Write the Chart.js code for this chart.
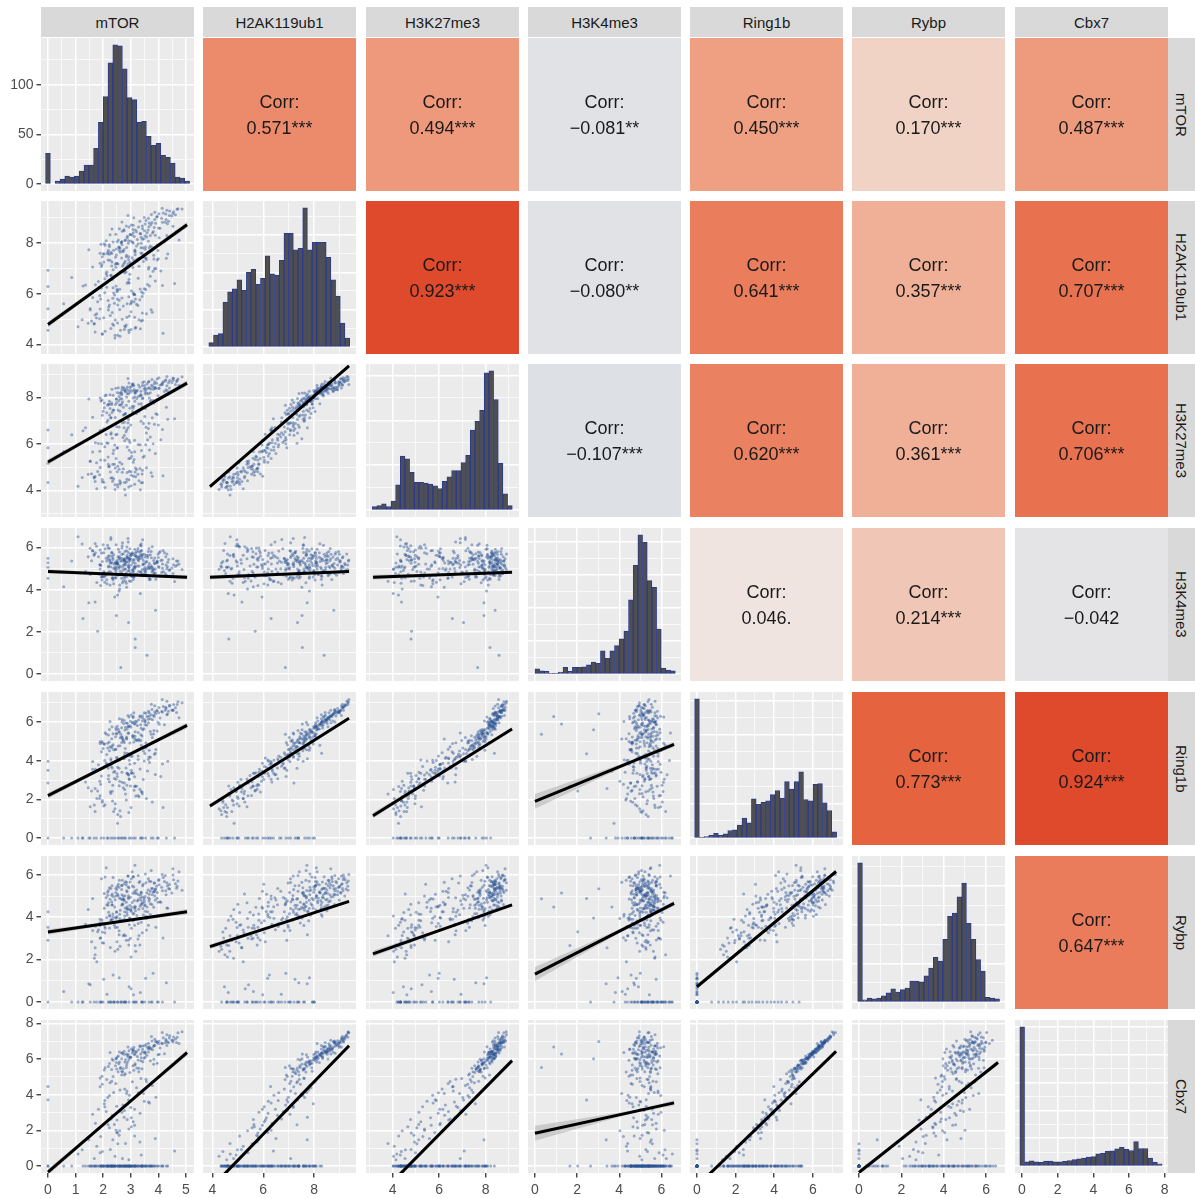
<!DOCTYPE html>
<html lang="en">
  <head>
    <meta charset="UTF-8" />
    <title>Pairs plot</title>
    <style>
      body { margin: 0; background: #ffffff; }
      #wrap {
        position: relative;
        width: 1195px;
        height: 1198px;
        overflow: hidden;
        font-family: 'Liberation Sans', Arial, Helvetica, sans-serif;
      }
      .strip {
        position: absolute;
        background: #d9d9d9;
        color: #1a1a1a;
        font-size: 15px;
        display: flex;
        align-items: center;
        justify-content: center;
      }
      .strip.right { writing-mode: vertical-rl; }
      canvas { position: absolute; }
    </style>
  </head>
  <body>
    <div id="wrap"></div>

    <script src="https://cdn.jsdelivr.net/npm/chart.js"></script>
    <script>
      // ---- data ----
      const variables = ['mTOR', 'H2AK119ub1', 'H3K27me3', 'H3K4me3', 'Ring1b', 'Rybp', 'Cbx7'];

      // observed range of each variable (axes are this range plus 5%)
      const dataMin = [0, 3.9, 3.15, 0, 0, 0, 0];
      const dataMax = [5.04, 9.38, 9.14, 6.6, 7.2, 6.56, 7.8];
      const varMean = [2.8, 7.0, 7.0, 4.7, 4.3, 4.2, 3.5];

      // axis breaks
      const majorBreaks = [[0, 1, 2, 3, 4, 5], [4, 6, 8], [4, 6, 8], [0, 2, 4, 6], [0, 2, 4, 6], [0, 2, 4, 6], [0, 2, 4, 6, 8]];
      const minorBreaks = [[0.5, 1.5, 2.5, 3.5, 4.5], [5, 7, 9], [3, 5, 7, 9], [1, 3, 5], [1, 3, 5, 7], [1, 3, 5], [1, 3, 5, 7]];

      // sampled observations (one entry per gene, same order in every array)
      const mTOR = [
        2.13,2.77,2.31,3.08,2.54,1.96,2.80,2.49,3.22,2.25,
        2.93,2.67,3.41,2.48,2.04,3.16,2.70,2.59,3.52,2.85,
        2.23,3.37,2.91,2.68,3.64,2.36,3.00,2.79,3.42,2.55,
        3.13,2.87,3.71,2.98,3.34,2.46,3.50,3.09,3.82,2.75,
        3.43,3.17,4.01,3.28,2.84,3.66,3.90,3.09,3.52,4.15,
        3.33,3.77,3.11,4.28,3.64,3.96,4.40,3.49,4.02,3.75,
        4.53,3.87,4.31,4.68,4.14,4.86,3.30,1.89,4.22,2.25,
        4.53,2.07,4.31,2.68,3.84,4.66,2.90,3.99,2.32,4.75,
        2.23,2.87,1.91,2.68,3.14,2.06,2.50,3.49,1.72,2.95,
        2.33,3.27,2.11,2.78,3.64,2.46,3.00,1.89,2.92,3.55,
        2.23,3.37,2.61,3.78,2.04,3.06,2.50,3.89,1.62,2.85,
        3.33,2.47,3.91,2.18,3.14,2.76,
        2.43,1.97,2.81,1.68,3.14,2.26,2.60,1.89,3.02,2.35,
        2.93,1.77,2.51,3.38,
        2.53,1.97,3.01,2.28,2.84,1.46,3.30,2.69,2.02,2.95,
        2.33,3.57,1.71,2.78,2.44,3.16,2.20,2.99,1.62,3.45,
        2.13,2.87,3.71,2.58,1.94,3.26,2.60,4.09,2.32,3.05,
        2.73,3.67,2.11,3.38,4.34,1.36,2.90,3.89,2.42,3.15,
        2.63,1.87,3.21,2.38,2.94,3.66,2.00,3.09,2.52,4.15,
        1.53,2.77,3.41,2.28,
        2.43,1.67,3.01,2.18,3.54,0.86,2.70,4.29,1.92,3.35,
        2.53,1.27,3.81,2.28,2.94,1.76,3.10,4.59,2.02,2.65,
        3.43,0.57,2.81,1.48,3.74,2.36,4.00,1.09,
        0,0,0,0,2.64,3.16,1.80,3.59,
        3.21,2.62,3.94,3.48,2.36,3.02,3.71,4.41,2.51,3.11,
        4.06,2.19,3.55,2.88,2.73,4.62,3.36,3.83,2.94,3.27,
        4.25,2.45,3.63,4.71,2.81,3.44,3.87,3.05,2.31,4.33,
        3.58,4.18,2.97,3.42,2.67,3.96,2.76,4.49,3.15,3.79,
        3.24,2.59,4.12,2.84,3.67,4.03,2.48,4.55,2.99,3.85,
        3.38,2.69,4.37,3.29,2.92,3.73,4.27,2.57,3.52,3.08,
        2.41,3.02,1.83,2.72,3.46,2.17,2.93,3.68,2.29,2.86,
        1.97,3.21,2.58,3.34,2.06,2.77,3.57,2.38,3.09,2.49,
        2.61,2.07,3.18,2.34,1.58,2.86,3.42,2.19,2.73,3.03,
        1.88,2.52,3.61,2.28,2.97,3.86,2.44,3.27,2.16,3.53,
        2.68,4.17,1.71,2.91,3.74,
        2.77,1.53,3.39,2.14,3.96,1.24,2.58,3.17,
        2.38,3.12,1.94,2.83,3.51,2.22,3.78
      ];
      const H2AK119ub1 = [
        6.86,6.91,7.09,7.03,7.17,7.14,7.28,7.20,7.35,7.32,
        7.46,7.41,7.59,7.53,7.57,7.64,7.68,7.70,7.75,7.82,
        7.86,7.81,7.99,7.93,8.07,8.04,8.08,8.10,8.15,8.12,
        8.26,8.21,8.29,8.33,8.37,8.34,8.48,8.40,8.45,8.52,
        8.56,8.51,8.59,8.63,8.67,8.64,8.78,8.70,8.75,8.82,
        8.86,8.81,8.99,8.93,8.97,9.04,9.08,9.00,9.15,9.12,
        9.16,9.21,9.29,9.33,9.37,9.34,7.08,7.60,8.05,8.32,
        8.66,7.91,8.29,8.83,7.37,8.44,9.08,7.70,8.55,8.12,
        5.56,5.61,5.79,5.83,5.97,6.04,6.18,6.20,6.35,6.42,
        6.56,6.61,6.79,6.83,6.97,7.04,7.18,7.20,7.35,7.42,
        7.56,7.61,7.79,7.83,7.97,8.04,6.08,6.50,7.05,7.52,
        5.76,6.31,6.99,7.33,5.97,7.74,
        4.26,4.41,4.69,4.83,5.07,5.14,5.38,5.40,5.65,5.82,
        4.56,5.21,5.79,4.93,
        4.36,4.41,4.59,4.63,4.77,4.84,4.98,5.00,5.05,5.12,
        5.26,5.21,4.49,4.73,4.97,4.64,5.48,5.60,5.85,6.02,
        6.26,6.41,6.69,6.83,7.07,5.54,6.18,6.90,7.25,7.42,
        7.66,7.81,8.09,8.23,7.57,6.34,7.18,8.30,5.95,7.72,
        4.56,5.01,5.59,6.03,6.57,7.04,7.58,8.00,4.85,6.32,
        5.36,7.21,5.89,6.73,
        4.36,4.81,5.29,5.73,6.17,6.64,7.08,7.40,7.95,4.62,
        5.56,6.31,6.89,7.63,4.47,5.04,5.98,6.40,7.25,8.02,
        4.96,5.61,6.99,7.73,5.37,6.24,7.38,4.70,
        4.56,5.41,6.29,6.93,6.87,7.54,5.68,8.40,
        8.44,7.63,9.02,8.17,6.95,8.71,7.88,9.26,8.05,7.32,
        8.58,7.71,8.89,8.27,7.15,9.11,8.36,7.52,8.63,7.97,
        8.82,7.44,8.51,9.35,8.12,7.81,8.93,8.31,7.59,8.76,
        8.24,9.18,7.25,8.67,8.02,7.92,8.48,9.06,7.68,8.39,
        8.14,8.56,8.97,7.46,8.79,8.21,7.76,9.23,8.33,8.61,
        7.99,8.46,8.86,7.39,8.09,8.72,9.14,7.84,8.28,8.53,
        5.63,6.12,6.48,6.88,7.27,7.63,5.88,6.31,6.72,7.08,
        7.46,7.88,5.74,6.19,6.59,6.95,7.35,7.71,6.04,7.19,
        4.33,4.52,4.68,4.81,4.93,5.07,5.24,5.36,5.52,5.71,
        5.93,6.13,6.36,6.57,6.77,6.98,7.16,7.37,7.58,7.84,
        8.06,4.44,5.16,6.46,7.69,
        4.59,5.42,6.07,6.71,7.33,4.98,7.82,5.79,
        4.76,5.68,6.22,6.86,7.41,7.93,5.27
      ];
      const H3K27me3 = [
        7.34,7.27,7.70,7.53,7.46,7.89,7.31,7.78,7.95,7.52,
        7.84,8.17,7.60,7.93,7.76,8.19,7.81,7.68,8.15,8.02,
        7.84,8.27,8.30,7.73,8.16,8.09,8.31,8.28,7.95,8.42,
        8.34,8.17,8.20,8.43,8.06,8.39,8.51,8.28,8.35,8.42,
        8.64,8.27,8.40,8.53,8.36,8.69,8.41,8.58,8.25,8.62,
        8.44,8.77,8.50,8.33,8.66,8.79,8.41,8.68,8.85,8.52,
        8.74,8.67,8.90,8.73,8.56,8.89,7.41,7.98,8.25,8.12,
        8.84,8.07,8.50,8.33,7.76,8.69,8.81,8.08,8.35,8.52,
        5.04,4.77,5.30,5.13,5.66,5.29,5.81,5.48,6.05,5.72,
        6.24,5.97,6.40,6.13,6.66,6.39,6.81,6.58,7.05,6.72,
        7.24,6.97,7.40,7.13,7.56,7.39,6.41,5.58,7.15,6.22,
        4.94,5.37,7.30,6.03,6.16,6.69,
        4.04,4.37,3.80,4.53,4.26,4.79,4.41,4.98,4.65,5.12,
        4.14,4.07,4.80,4.33,
        4.14,4.47,4.20,4.53,4.36,4.69,4.41,4.78,4.35,4.82,
        4.54,4.97,4.60,4.03,4.96,4.79,5.01,5.38,5.65,5.42,
        6.04,5.87,6.30,6.73,6.56,4.69,5.21,6.18,7.35,7.62,
        7.24,7.97,8.10,7.73,7.06,6.69,6.91,8.38,5.95,8.02,
        4.34,4.67,4.90,5.73,6.16,6.89,7.41,7.98,4.25,6.62,
        5.24,6.37,4.70,7.13,
        4.24,4.57,4.80,5.43,5.96,6.39,6.91,7.58,7.85,4.02,
        5.04,6.57,6.00,7.13,4.46,5.19,4.61,7.08,6.65,8.22,
        4.34,5.67,7.30,7.93,4.76,5.59,6.81,4.18,
        4.34,5.17,6.60,5.83,7.66,8.19,4.81,8.58,
        8.27,7.94,8.61,8.36,7.45,8.48,7.82,8.73,8.21,7.62,
        8.52,7.71,8.34,8.45,7.58,8.56,8.13,7.87,8.62,8.04,
        8.71,7.69,8.39,8.79,8.26,7.98,8.44,8.58,7.76,8.29,
        8.19,8.68,7.53,8.51,8.12,7.91,8.33,8.64,7.84,8.47,
        8.31,8.18,8.57,7.66,8.42,8.38,7.93,8.82,8.22,8.59,
        8.08,8.44,8.63,7.72,8.16,8.36,8.76,7.86,8.41,8.53,
        5.12,5.63,6.02,6.27,6.88,7.02,5.37,5.74,6.48,6.61,
        7.23,7.31,4.91,5.96,5.88,6.93,6.47,7.46,5.21,6.74,
        4.27,4.12,4.58,4.39,4.71,4.48,4.86,5.12,4.93,5.47,
        5.68,5.84,6.18,6.41,6.06,6.84,7.14,7.43,7.66,7.52,
        7.94,4.63,4.38,6.71,7.88,
        4.34,5.26,5.71,6.94,7.27,4.55,8.04,4.96,
        4.49,5.33,6.01,6.52,7.18,7.71,4.61
      ];
      const H3K4me3 = [
        5.37,4.64,5.60,4.98,5.21,4.46,5.83,5.09,4.75,5.42,
        5.17,4.54,5.50,2.78,4.81,5.26,4.33,5.79,5.05,4.62,
        5.37,5.84,4.90,5.48,5.11,4.46,5.63,5.29,4.75,5.92,
        5.07,5.54,4.50,5.38,6.11,4.86,5.23,5.69,4.95,5.42,
        4.67,5.74,5.10,5.38,4.81,5.96,3.03,4.49,5.55,5.02,
        5.77,4.84,5.40,5.18,5.81,5.36,4.93,5.69,5.05,5.52,
        4.77,5.24,5.70,5.18,5.41,4.96,5.53,4.99,5.75,4.22,
        5.47,5.94,5.00,5.68,4.81,5.36,5.13,5.69,4.75,5.22,
        4.87,5.54,4.20,5.98,5.11,4.66,5.33,4.99,5.75,4.42,
        5.27,5.84,4.70,5.48,5.01,4.56,5.63,5.19,2.45,5.32,
        5.97,4.84,5.50,5.08,4.61,5.76,5.23,4.99,5.85,4.12,
        5.47,6.14,4.50,5.58,5.01,5.36,
        4.97,5.34,4.40,5.68,4.71,5.26,4.03,5.89,4.65,5.52,
        5.07,4.34,5.40,6.08,
        5.27,4.64,5.70,5.08,4.31,5.56,5.13,6.09,4.85,5.42,
        4.57,5.64,6.20,4.98,5.31,1.66,5.13,4.79,5.85,5.22,
        4.47,5.64,5.00,5.48,4.61,5.96,4.23,5.39,5.75,4.92,
        5.17,4.54,5.50,6.18,5.31,4.86,6.43,4.79,3.65,5.92,
        5.37,4.74,5.80,4.28,5.51,5.06,6.13,4.89,3.75,5.22,
        5.97,4.54,5.60,6.38,
        5.07,5.64,4.40,5.98,4.81,5.36,6.23,4.69,5.15,3.82,
        5.57,2.64,5.00,6.48,4.91,6.06,5.43,4.39,5.75,4.72,
        6.37,4.14,5.20,3.38,5.81,4.56,5.53,6.52,
        5.07,4.54,5.50,5.28,0.31,1.26,2.03,0.89,
        5.58,4.88,5.31,4.72,5.44,5.17,5.66,4.95,5.23,4.61,
        5.82,5.08,4.69,5.47,5.71,5.12,4.84,5.39,5.04,5.55,
        4.77,5.26,5.63,5.36,4.98,5.19,5.51,4.63,5.77,5.09,
        5.34,4.86,5.48,5.69,4.79,5.27,5.42,5.03,5.61,4.91,
        5.13,5.58,4.82,5.35,5.24,5.76,4.97,5.19,5.46,4.73,
        5.62,5.07,5.43,4.86,5.32,5.14,5.57,5.02,4.68,5.29,
        5.21,4.68,5.57,4.93,5.39,4.81,5.76,4.47,5.31,5.84,
        4.62,5.49,5.08,5.63,4.36,5.17,4.99,5.66,4.84,5.28,
        5.13,4.77,5.62,4.54,5.38,6.03,4.96,5.47,4.41,5.71,
        5.19,4.69,5.53,4.83,5.94,5.26,4.58,5.42,6.11,4.91,
        5.37,5.86,3.42,6.27,5.06,
        5.41,4.72,5.86,4.29,5.33,6.17,3.94,5.08,
        5.02,4.61,5.74,5.29,4.86,5.61,6.04
      ];
      const Ring1b = [
        4.32,4.95,4.68,5.21,4.77,5.00,4.64,5.39,5.06,4.73,
        5.42,4.95,5.28,5.61,4.87,5.50,5.14,5.49,5.86,5.23,
        5.62,5.35,5.78,5.21,5.97,5.40,5.74,5.59,6.06,5.63,
        5.92,5.65,6.18,5.81,6.27,5.70,6.14,5.99,6.36,5.93,
        6.22,6.05,6.48,6.11,5.97,6.30,6.44,6.29,6.06,6.53,
        6.32,6.65,6.48,6.71,6.57,6.60,6.84,6.49,6.76,6.93,
        6.62,6.85,7.08,6.91,7.17,7.00,5.04,4.99,5.86,6.03,
        6.62,5.45,6.38,6.01,5.57,6.50,6.34,5.99,5.76,6.23,
        2.92,3.35,2.78,3.41,3.17,3.70,3.34,3.99,3.56,4.03,
        3.62,4.25,3.88,4.41,4.07,4.60,4.24,4.89,4.36,4.93,
        4.52,5.05,4.78,5.21,4.87,5.30,4.14,3.29,3.96,5.13,
        2.52,3.05,4.58,3.61,3.87,4.10,
        1.52,1.95,2.28,1.71,2.67,2.40,2.94,2.19,3.36,2.73,
        1.32,2.05,3.18,2.41,
        1.22,1.85,1.58,2.31,1.97,2.60,2.14,2.89,1.66,3.03,
        2.42,2.05,1.38,2.51,1.77,2.70,3.24,2.69,3.56,3.03,
        3.82,3.35,4.18,3.61,4.47,2.20,4.04,3.19,4.76,4.23,
        5.02,4.55,5.38,4.81,3.97,2.90,5.44,4.39,3.46,5.13,
        1.12,2.05,2.68,3.41,3.07,4.20,4.64,5.29,0.76,3.83,
        1.62,2.85,2.38,4.01,
        0,0,0,0,0,0,0,0,0,0,
        0,0,0,0,0,0,0,0,0,0,
        0,0,0,0,0,0,0,0,
        0,2.85,3.98,3.51,5.37,5.90,2.44,6.29,
        6.02,5.19,6.58,5.66,4.83,6.37,5.52,6.88,5.79,4.97,
        6.21,5.33,6.46,5.93,5.07,6.74,5.87,5.38,6.27,5.46,
        6.61,5.24,6.15,7.06,5.74,5.61,6.52,5.97,5.14,6.42,
        5.84,6.81,4.92,6.33,5.71,5.54,6.09,6.63,5.27,6.12,
        5.82,6.18,6.55,5.17,6.48,5.89,5.43,6.91,6.05,6.29,
        5.68,6.14,6.57,5.11,5.77,6.38,6.77,5.49,6.01,6.24,
        3.08,3.51,3.79,4.13,4.51,4.66,3.27,3.91,3.72,4.39,
        4.92,5.06,2.71,3.58,4.02,4.27,4.73,4.57,3.36,4.18,
        1.41,1.73,2.18,1.92,2.44,2.73,2.29,3.06,2.61,3.38,
        2.94,3.67,3.47,4.11,3.82,4.34,4.58,4.07,4.91,4.66,
        5.24,1.58,2.57,3.28,5.37,
        0,0,0,0,0,0,0,0,
        1.37,2.47,3.21,3.63,4.38,4.97,1.86
      ];
      const Rybp = [
        4.59,3.90,4.73,4.16,5.02,3.87,4.44,5.31,4.08,4.85,
        4.39,5.50,4.63,3.96,5.12,4.47,5.74,4.91,4.28,5.25,
        4.09,4.80,5.43,4.56,4.92,5.87,4.34,5.01,4.68,5.55,
        4.79,5.20,4.13,5.66,4.92,5.37,4.54,5.91,5.18,4.85,
        5.49,4.30,5.73,5.06,5.52,4.77,5.34,5.91,4.98,5.25,
        5.69,4.60,5.43,5.06,5.82,5.17,5.54,4.81,5.78,5.35,
        5.99,5.00,5.63,5.46,6.02,5.27,5.64,3.61,5.68,4.05,
        6.29,5.90,4.43,5.06,5.22,5.37,5.94,4.71,4.58,6.15,
        3.49,4.10,3.03,3.86,4.42,3.27,4.04,4.71,3.58,3.95,
        4.59,3.70,4.93,4.26,3.62,5.17,4.34,3.91,4.88,4.05,
        5.39,4.60,3.83,5.06,4.42,5.47,2.84,4.81,3.38,5.65,
        2.69,5.00,3.53,4.56,5.22,3.17,
        2.39,2.80,3.13,2.06,3.62,2.57,3.94,3.01,3.48,4.15,
        2.69,1.90,3.53,3.76,
        2.49,3.30,2.13,3.86,2.92,4.37,3.14,4.61,2.78,3.65,
        5.09,3.40,2.23,4.06,3.52,2.67,4.24,3.01,4.88,5.55,
        3.99,4.50,5.23,3.36,5.82,2.97,4.14,4.71,5.48,6.15,
        4.99,5.70,6.33,5.16,4.42,3.67,5.94,5.31,4.48,6.45,
        0,0,0,0,0,0,0,0,0,0,
        0,0,0,0,
        0,0,0.63,0,1.12,0,0,0.91,0,0.45,
        0,0,1.36,0,0.72,0,0.34,0,1.08,0,
        0,0.50,0,0.86,0,1.27,0,0,
        0,3.53,4.26,2.92,4.87,5.14,3.31,4.48,
        5.12,4.33,5.47,4.91,4.02,5.81,4.64,5.33,5.46,4.18,
        4.73,5.26,5.63,4.37,4.86,5.58,5.06,4.47,5.39,4.82,
        5.97,3.98,5.28,5.71,5.67,4.41,5.22,4.69,5.03,5.49,
        5.15,5.87,4.56,4.96,5.31,4.89,5.58,5.14,4.52,5.35,
        4.76,5.74,5.42,4.71,5.08,5.53,4.26,5.77,4.94,5.61,
        5.18,4.83,5.36,4.38,5.01,5.69,5.25,5.41,4.58,5.13,
        3.62,4.27,3.41,4.63,4.12,5.04,2.93,4.86,3.88,4.41,
        3.73,5.29,3.17,4.52,3.56,4.78,3.94,4.97,3.84,4.23,
        2.63,3.48,2.39,3.91,2.84,4.22,3.27,4.68,3.13,4.47,
        3.74,5.08,4.26,5.36,3.96,5.62,4.83,5.97,5.18,6.04,
        5.51,3.02,2.56,4.92,6.21,
        0,0.82,0,0.37,0,0,1.15,0,
        0,0,0,0,0,0,0
      ];
      const Cbx7 = [
        4.85,5.11,4.76,5.62,5.29,5.03,5.18,5.44,5.50,4.67,
        5.95,5.11,5.46,6.02,5.39,5.73,5.28,5.84,6.10,5.67,
        5.75,5.91,6.26,5.32,6.39,5.93,6.08,5.84,6.40,6.17,
        6.25,5.81,6.56,6.12,6.69,6.03,6.38,6.44,6.70,6.27,
        6.55,6.41,6.86,6.52,6.29,6.63,6.98,6.54,6.40,6.87,
        6.75,7.01,6.66,7.02,6.89,6.93,7.18,6.74,7.00,7.27,
        6.95,7.11,7.36,7.22,7.49,7.53,5.48,4.94,6.30,6.37,
        7.05,5.51,6.76,6.32,5.99,6.93,6.68,6.24,6.00,6.87,
        2.15,2.61,1.66,3.02,2.29,3.33,1.88,3.64,2.40,3.97,
        2.85,4.11,3.06,4.32,3.59,4.63,3.28,4.44,3.70,4.87,
        3.95,4.91,4.26,4.52,3.49,4.73,2.58,1.54,2.90,4.07,
        1.35,2.01,3.86,2.32,3.19,2.73,
        0.55,0.81,1.26,0.42,1.69,0.93,1.98,0.74,2.20,1.47,
        0.35,1.11,1.86,0.62,
        0,0,0,0,0,0,0,0,0,0,
        0,0,0,0,0,0,0,0,0,0,
        0,0,0,0,0,0,0,0,0,0,
        0,0,0,0,0,0,0,0,0,0,
        0,0,0,0,0,0,0,0,0,0,
        0,0,0,0,
        0,0,0,0,0,0,0.43,0,0,0,
        1.25,0,0,0,0,0,0,0.84,0,0,
        0,0,0,1.48,0,0,0,0.67,
        0,0,4.46,3.72,5.53,6.29,0,6.67,
        6.41,5.47,6.97,6.05,5.02,6.58,5.91,7.31,6.12,5.37,
        6.62,5.58,6.82,6.18,5.46,7.13,6.29,5.71,6.47,5.94,
        6.91,5.63,6.56,7.48,5.98,5.85,6.78,6.34,5.41,6.95,
        6.21,7.19,5.24,6.73,6.01,5.77,6.44,7.06,5.66,6.52,
        6.14,6.39,6.88,5.52,6.69,6.27,5.81,7.24,6.11,6.76,
        6.07,6.36,6.93,5.29,6.09,6.61,7.09,5.73,6.33,6.49,
        2.33,2.71,3.18,3.42,4.07,3.84,2.08,3.53,2.64,4.21,
        4.58,4.39,1.72,2.96,3.67,3.12,4.74,4.12,2.49,3.36,
        0,0,0,0,0,0,0,0,0,0,
        0,0,0,0,0,0,0,0,0,0,
        0,0,0,0,0,
        0,0,0,0,0,0.91,0,0,
        0,0,0,0,0,0,0
      ];
      const series = [mTOR, H2AK119ub1, H3K27me3, H3K4me3, Ring1b, Rybp, Cbx7];

      // diagonal histograms: 30 bins each
      const histStart = [-0.087, 3.855, 3.12, 0.0, -0.12, -0.06, -0.12];
      const histWidth = [0.174, 0.185, 0.201, 0.222, 0.245, 0.223, 0.266];
      const countsMTOR = [31,0,3,5,8,7,8,13,19,19,36,62,88,122,140,139,116,87,85,62,63,48,39,41,29,27,21,7,6,3];
      const countsH2AK = [3,8,9,30,37,39,45,38,50,52,42,46,61,49,48,58,76,76,65,66,93,65,70,70,70,60,45,34,16,6];
      const countsH3K27 = [4,5,7,4,10,28,60,57,42,31,31,30,29,27,24,32,37,44,44,53,61,89,99,111,153,155,123,52,18,5];
      const countsH3K4 = [8,5,4,1,1,3,10,4,10,10,11,14,18,16,35,24,35,43,53,65,112,164,210,199,141,131,68,9,6,5];
      const countsRing1b = [202,1,2,4,7,4,6,11,12,19,29,22,57,49,52,54,63,69,58,82,71,82,96,56,54,78,79,51,40,9];
      const countsRybp = [180,3,5,4,5,8,12,17,13,16,18,27,27,26,34,44,58,53,81,111,115,136,154,102,81,55,40,6,5,4];
      const countsCbx7 = [500,15,19,15,13,18,18,15,15,17,20,23,26,29,32,34,44,47,53,55,62,67,60,56,88,63,63,29,14,8];
      const histCounts = [countsMTOR, countsH2AK, countsH3K27, countsH3K4, countsRing1b, countsRybp, countsCbx7];
      const countStep = [50, 25, 50, 50, 50, 50, 100];

      // upper panels: correlation and significance, row by row
      const corrValues = [0.571, 0.494, -0.081, 0.450, 0.170, 0.487,
                          0.923, -0.080, 0.641, 0.357, 0.707,
                          -0.107, 0.620, 0.361, 0.706,
                          0.046, 0.214, -0.042,
                          0.773, 0.924,
                          0.647];
      const corrStars = ['***', '***', '**', '***', '***', '***',
                         '***', '**', '***', '***', '***',
                         '***', '***', '***', '***',
                         '.', '***', '',
                         '***', '***',
                         '***'];

      // lower panels: linear fit (row variable on column variable), row by row
      const fitIntercept = [4.79,
                            5.22, 0.45,
                            4.87, 4.39, 4.47,
                            2.2, -1.58, -1.2, 1.9,
                            3.3, 1.09, 1.06, 1.32, 0.72,
                            -0.34, -7.0, -6.15, 1.84, -1.13, -0.36];
      const fitSlope = [0.78,
                        0.674, 0.95,
                        -0.056, 0.051, 0.04,
                        0.72, 0.83, 0.749, 0.447,
                        0.19, 0.39, 0.385, 0.505, 0.755,
                        1.33, 1.465, 1.32, 0.258, 1.05, 0.94];
      // confidence band half-width at low end, mean and high end of x
      const bandLow = [0.12, 0.12, 0.08, 0.1, 0.1, 0.12, 0.15, 0.12, 0.15, 0.38, 0.13, 0.12, 0.14, 0.33, 0.1, 0.18, 0.15, 0.18, 0.42, 0.1, 0.14];
      const bandMid = [0.04, 0.04, 0.02, 0.03, 0.03, 0.03, 0.05, 0.04, 0.04, 0.06, 0.04, 0.04, 0.04, 0.05, 0.04, 0.06, 0.05, 0.05, 0.07, 0.04, 0.05];
      const bandHigh = [0.12, 0.12, 0.06, 0.1, 0.06, 0.06, 0.15, 0.08, 0.08, 0.14, 0.13, 0.08, 0.08, 0.12, 0.1, 0.18, 0.1, 0.1, 0.15, 0.08, 0.14];

      // ---- layout & style ----
      const FONT = "'Liberation Sans', Arial, Helvetica, sans-serif";
      const colX = [41, 203, 366, 528, 690, 852, 1015];
      const rowY = [38, 201, 364, 528, 692, 856, 1020];
      const PANEL = 153;
      const LEFT_AXIS = 41;
      const BOTTOM_AXIS = 25;
      const TOP_ROOM = 8;
      const POINT_COLOR = 'rgba(42, 82, 148, 0.45)';
      const BAR_FILL = '#4f4f4f';
      const BAR_LINE = '#2b3a8f';

      const corrStops = [
        [-0.11, [221, 225, 230]],
        [0.0, [233, 230, 230]],
        [0.05, [240, 228, 224]],
        [0.17, [240, 211, 197]],
        [0.21, [240, 200, 184]],
        [0.36, [240, 175, 151]],
        [0.45, [239, 160, 131]],
        [0.49, [238, 154, 124]],
        [0.57, [236, 139, 108]],
        [0.63, [234, 127, 94]],
        [0.71, [232, 113, 79]],
        [0.77, [230, 100, 64]],
        [0.92, [224, 74, 44]]
      ];

      Chart.defaults.font.family = FONT;

      function corrColor(v) {
        if (v <= corrStops[0][0]) return `rgb(${corrStops[0][1].join(',')})`;
        for (let s = 1; s < corrStops.length; s++) {
          const [v1, c1] = corrStops[s];
          const [v0, c0] = corrStops[s - 1];
          if (v <= v1) {
            const t = (v - v0) / (v1 - v0);
            const c = c0.map((ch, n) => Math.round(ch + (c1[n] - ch) * t));
            return `rgb(${c.join(',')})`;
          }
        }
        return `rgb(${corrStops[corrStops.length - 1][1].join(',')})`;
      }

      function axisRange(k) {
        const span = dataMax[k] - dataMin[k];
        return [dataMin[k] - 0.05 * span, dataMax[k] + 0.05 * span];
      }

      function makeAxis(dir, min, max, majors, minors, show, size) {
        const all = majors.concat(minors).filter(v => v >= min && v <= max);
        const isMajor = v => majors.includes(v);
        return {
          type: 'linear',
          min: min,
          max: max,
          offset: false,
          afterBuildTicks: scale => {
            scale.ticks = all.map(v => ({ value: v }));
          },
          afterFit: scale => {
            if (dir === 'x') scale.height = show ? size : 0;
            else scale.width = show ? size : 0;
            scale.paddingLeft = 0;
            scale.paddingRight = 0;
            scale.paddingTop = 0;
            scale.paddingBottom = 0;
          },
          border: { display: false },
          grid: {
            offset: false,
            color: '#ffffff',
            lineWidth: ctx => (ctx.tick && isMajor(ctx.tick.value) ? 1.5 : 0.7),
            drawTicks: show,
            tickLength: 4.5,
            tickWidth: 1.3,
            tickColor: ctx => (ctx.tick && isMajor(ctx.tick.value) ? '#333333' : 'rgba(0,0,0,0)')
          },
          ticks: {
            display: show,
            autoSkip: false,
            maxRotation: 0,
            padding: dir === 'x' ? 4 : 3,
            color: '#4d4d4d',
            font: { size: 14 },
            callback: v => (isMajor(v) ? String(v) : '')
          }
        };
      }

      function baseOptions(x, y, padTop) {
        return {
          responsive: false,
          animation: false,
          devicePixelRatio: 1,
          events: [],
          layout: { padding: { top: padTop || 0, left: 0, right: 0, bottom: 0 }, autoPadding: false },
          plugins: { legend: { display: false }, tooltip: { enabled: false } },
          scales: { x: x, y: y }
        };
      }

      const panelBg = {
        id: 'panelBg',
        beforeDraw(chart) {
          const a = chart.chartArea;
          const ctx = chart.ctx;
          ctx.save();
          ctx.fillStyle = '#ebebeb';
          ctx.fillRect(a.left, a.top, a.right - a.left, a.bottom - a.top);
          ctx.restore();
        }
      };

      const corrText = {
        id: 'corrText',
        afterDatasetsDraw(chart, args, opts) {
          const a = chart.chartArea;
          const ctx = chart.ctx;
          const cx = (a.left + a.right) / 2;
          const cy = (a.top + a.bottom) / 2;
          ctx.save();
          ctx.fillStyle = '#1a1a1a';
          ctx.font = `18px ${FONT}`;
          ctx.textAlign = 'center';
          ctx.textBaseline = 'middle';
          ctx.fillText('Corr:', cx, cy - 11.5);
          ctx.fillText(opts.label, cx, cy + 15);
          ctx.restore();
        }
      };

      const wrap = document.getElementById('wrap');

      function addCanvas(left, top, w, h) {
        const c = document.createElement('canvas');
        c.width = w;
        c.height = h;
        c.style.left = left + 'px';
        c.style.top = top + 'px';
        c.style.width = w + 'px';
        c.style.height = h + 'px';
        wrap.appendChild(c);
        return c;
      }

      function corrPanel(canvas, v, stars) {
        const label = (v < 0 ? '\u2212' : '') + Math.abs(v).toFixed(3) + stars;
        const opts = baseOptions({ display: false }, { display: false, min: 0, max: 1 });
        opts.plugins.corrText = { label: label };
        new Chart(canvas, {
          type: 'bar',
          data: {
            labels: [''],
            datasets: [{
              data: [1],
              backgroundColor: corrColor(v),
              borderWidth: 0,
              barPercentage: 1,
              categoryPercentage: 1
            }]
          },
          options: opts,
          plugins: [corrText]
        });
      }

      function histPanel(canvas, k, showX, showY, padTop) {
        const counts = histCounts[k];
        const peak = Math.max(...counts);
        const bars = counts.map((c, n) => ({ x: histStart[k] + histWidth[k] * (n + 0.5), y: c }));
        const yMin = -0.05 * peak;
        const yMax = 1.05 * peak;
        const step = countStep[k];
        const yMajors = [];
        const yMinors = [];
        for (let v = 0; v <= yMax; v += step) yMajors.push(v);
        for (let v = step / 2; v <= yMax; v += step) yMinors.push(v);
        const [xMin, xMax] = axisRange(k);
        new Chart(canvas, {
          type: 'bar',
          data: {
            datasets: [{
              data: bars,
              backgroundColor: BAR_FILL,
              borderColor: BAR_LINE,
              borderWidth: 1,
              borderSkipped: false,
              barPercentage: 1,
              categoryPercentage: 1
            }]
          },
          options: baseOptions(
            makeAxis('x', xMin, xMax, majorBreaks[k], minorBreaks[k], showX, BOTTOM_AXIS),
            makeAxis('y', yMin, yMax, yMajors, yMinors, showY, LEFT_AXIS),
            padTop
          ),
          plugins: [panelBg]
        });
      }

      function scatterPanel(canvas, i, j, k, showX, showY, padTop) {
        const xs = series[j];
        const ys = series[i];
        const pts = xs.map((x, n) => ({ x: x, y: ys[n] }));
        const lo = dataMin[j];
        const hi = dataMax[j];
        const a = fitIntercept[k];
        const b = fitSlope[k];
        const fit = x => a + b * x;
        const bandX = [lo, varMean[j], hi];
        const bandW = [bandLow[k], bandMid[k], bandHigh[k]];
        const upper = bandX.map((x, n) => ({ x: x, y: fit(x) + bandW[n] }));
        const lower = bandX.map((x, n) => ({ x: x, y: fit(x) - bandW[n] }));
        const [xMin, xMax] = axisRange(j);
        const [yMin, yMax] = axisRange(i);
        new Chart(canvas, {
          type: 'scatter',
          data: {
            datasets: [
              {
                data: [{ x: lo, y: fit(lo) }, { x: hi, y: fit(hi) }],
                showLine: true,
                borderColor: '#000000',
                borderWidth: 3,
                pointRadius: 0,
                clip: 0
              },
              {
                data: upper,
                showLine: true,
                borderWidth: 0,
                borderColor: 'rgba(0,0,0,0)',
                pointRadius: 0,
                fill: '+1',
                backgroundColor: 'rgba(153,153,153,0.4)',
                clip: 0
              },
              {
                data: lower,
                showLine: true,
                borderWidth: 0,
                borderColor: 'rgba(0,0,0,0)',
                pointRadius: 0,
                fill: false,
                clip: 0
              },
              {
                data: pts,
                pointRadius: 1.5,
                pointBorderWidth: 0,
                pointBackgroundColor: POINT_COLOR,
                backgroundColor: POINT_COLOR,
                borderWidth: 0
              }
            ]
          },
          options: baseOptions(
            makeAxis('x', xMin, xMax, majorBreaks[j], minorBreaks[j], showX, BOTTOM_AXIS),
            makeAxis('y', yMin, yMax, majorBreaks[i], minorBreaks[i], showY, LEFT_AXIS),
            padTop
          ),
          plugins: [panelBg]
        });
      }

      // strips
      variables.forEach((name, n) => {
        const top = document.createElement('div');
        top.className = 'strip';
        top.style.left = colX[n] + 'px';
        top.style.top = '7px';
        top.style.width = PANEL + 'px';
        top.style.height = '30px';
        top.textContent = name;
        wrap.appendChild(top);

        const side = document.createElement('div');
        side.className = 'strip right';
        side.style.left = '1168px';
        side.style.top = rowY[n] + 'px';
        side.style.width = '27px';
        side.style.height = PANEL + 'px';
        side.textContent = name;
        wrap.appendChild(side);
      });

      // panels (left column gets extra room above so the top tick label is not cut)
      let upper = 0;
      for (let i = 0; i < 7; i++) {
        for (let j = 0; j < 7; j++) {
          const showY = j === 0;
          const showX = i === 6;
          const padTop = showY && i > 0 ? TOP_ROOM : 0;
          const left = colX[j] - (showY ? LEFT_AXIS : 0);
          const w = PANEL + (showY ? LEFT_AXIS : 0);
          const h = PANEL + (showX ? BOTTOM_AXIS : 0) + padTop;
          const canvas = addCanvas(left, rowY[i] - padTop, w, h);
          if (i < j) {
            corrPanel(canvas, corrValues[upper], corrStars[upper]);
            upper++;
          } else if (i === j) {
            histPanel(canvas, i, showX, showY, padTop);
          } else {
            scatterPanel(canvas, i, j, (i * (i - 1)) / 2 + j, showX, showY, padTop);
          }
        }
      }
    </script>
  </body>
</html>
